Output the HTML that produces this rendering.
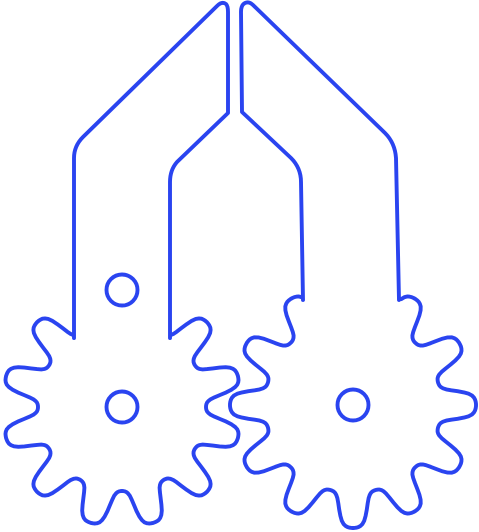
<!DOCTYPE html>
<html><head><meta charset="utf-8"><style>html,body{margin:0;padding:0;background:#fff}svg{display:block}</style></head>
<body>
<svg id="s" width="479" height="532" viewBox="0 0 479 532" xmlns="http://www.w3.org/2000/svg">
<g fill="none" stroke="#2a44f0" stroke-width="3.9" stroke-linecap="round" stroke-linejoin="round">
<path d="M74,338 L74,158 Q74,146 83,137 L217,6 Q222,1 226,4 Q228,6 228,12 L228,113 L177,162 Q170,170 170,182 L170,338"/>
<path d="M303,300 L301,182 Q301,168 291,158 L242,112 L241,12 Q241,5 245,3 Q249,1 253,5 L385,133 Q395,143 396,158 L399,300"/>
<circle cx="122" cy="407" r="15.5"/>
<circle cx="122" cy="290" r="15.5"/>
<circle cx="353" cy="405" r="15.5"/>
<path id="g1"/>
<path id="g2"/>
</g>
</svg>
<script>
function prof(cx,cy,rin,rout,phase,a){
  var t=Math.cos(12*(a-phase)*Math.PI/180);
  var f=Math.tanh(1.6*t)/Math.tanh(1.6);
  var r=(rin+rout)/2+(rout-rin)/2*f;
  return [cx+r*Math.cos(a*Math.PI/180), cy-r*Math.sin(a*Math.PI/180)];
}
function gear(id,cx,cy,rin,rout,phase,xl,xr){
  var a0=90,p;
  while(true){p=prof(cx,cy,rin,rout,phase,a0); if(p[0]<=xl) break; a0+=0.5;}
  var a1=90+360;
  while(true){p=prof(cx,cy,rin,rout,phase,a1); if(p[0]>=xr) break; a1-=0.5;}
  var d='';
  for(var a=a0;a<=a1;a+=1){p=prof(cx,cy,rin,rout,phase,a); d+=(d?'L':'M')+p[0].toFixed(1)+','+p[1].toFixed(1);}
  document.getElementById(id).setAttribute('d',d);
}
gear('g1',122,407,84,120,15,74,170);
gear('g2',353,405,88,123,0,303,399);
</script>
</body></html>
